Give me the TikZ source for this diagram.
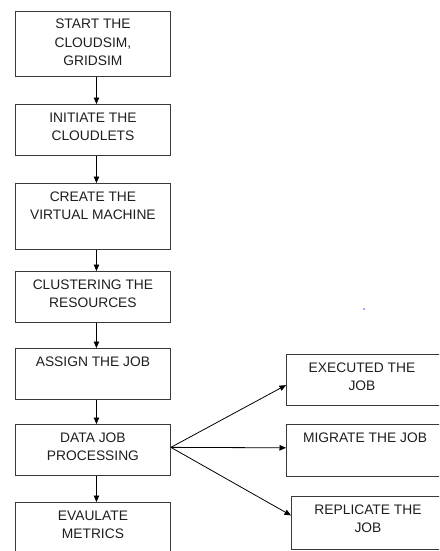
\documentclass[tikz,border=0pt]{standalone}
\usepackage{fontspec}
\setmainfont{Liberation Sans}
\usetikzlibrary{arrows.meta,calc}
\definecolor{linec}{HTML}{3A3A3A}
\definecolor{txtc}{HTML}{1E1E1E}
\definecolor{dotc}{HTML}{6B6BFF}
\tikzset{
  box/.style={draw=linec, line width=0.9pt, minimum width=155pt, inner sep=0pt, anchor=north west},
  rbox/.style={box, minimum width=165pt},
  lbl/.style={anchor=base, inner sep=0pt, text=txtc, font=\fontsize{13.8}{18.5}\selectfont},
  arr/.style={draw=black, line width=0.8pt, -{Triangle[length=6.5pt,width=5.5pt]}}
}
\newcommand{\lines}[1]{\setlength{\tabcolsep}{0pt}\begin{tabular}[t]{c}#1\end{tabular}}
\begin{document}
\begin{tikzpicture}[x=1pt,y=-1pt]
\useasboundingbox (0,0) rectangle (439,551);
\clip (0,0) rectangle (439,551);
% left column
\node[box, minimum height=65pt] (b1) at (15,11) {};
\node[box, minimum height=51pt] (b2) at (15,104) {};
\node[box, minimum height=66pt] (b3) at (15,183) {};
\node[box, minimum height=51pt] (b4) at (15,271) {};
\node[box, minimum height=51pt] (b5) at (15,348) {};
\node[box, minimum height=51pt] (b6) at (15,424) {};
\node[box, minimum height=70pt] (b7) at (15,502) {};
% right column
\node[rbox, minimum height=51pt] (r1) at (286,354) {};
\node[rbox, minimum height=52pt] (r2) at (286,424) {};
\node[rbox, minimum height=53pt] (r3) at (291,496) {};
% labels
\node[lbl] (t1) at ($(b1.north)+(0,18)$) {\lines{START THE\\CLOUDSIM,\\GRIDSIM}};
\node[lbl] (t2) at ($(b2.north)+(0,18)$) {\lines{INITIATE THE\\CLOUDLETS}};
\node[lbl] (t3) at ($(b3.north)+(0,18)$) {\lines{CREATE THE\\VIRTUAL MACHINE}};
\node[lbl] (t4) at ($(b4.north)+(0,18)$) {\lines{CLUSTERING THE\\RESOURCES}};
\node[lbl] (t5) at ($(b5.north)+(0,18)$) {\lines{ASSIGN THE JOB}};
\node[lbl] (t6) at ($(b6.north)+(0,18)$) {\lines{DATA JOB\\PROCESSING}};
\node[lbl] (t7) at ($(b7.north)+(0,18)$) {\lines{EVAULATE\\METRICS}};
\node[lbl] (u1) at ($(r1.north west)+(76,18)$) {\lines{EXECUTED THE\\JOB}};
\node[lbl] (u2) at ($(r2.north west)+(79,18)$) {\lines{MIGRATE THE JOB}};
\node[lbl] (u3) at ($(r3.north west)+(77,18)$) {\lines{REPLICATE THE\\JOB}};
% vertical connectors
\foreach \a/\b in {b1/b2,b2/b3,b3/b4,b4/b5,b5/b6,b6/b7}
  \draw[arr] ([xshift=3.5pt]\a.south) -- ([xshift=3.5pt]\b.north);
% fan connectors
\coordinate (src) at ($(b6.north east)!0.45!(b6.south east)$);
\draw[arr] (src) -- ($(r1.north west)!0.6!(r1.south west)$);
\draw[arr] (src) -- ($(r2.north west)!0.45!(r2.south west)$);
\draw[arr] (src) -- ($(r3.north west)!0.36!(r3.south west)$);
% stray dot
\fill[dotc] (364,309) circle (1pt);
\end{tikzpicture}
\end{document}
